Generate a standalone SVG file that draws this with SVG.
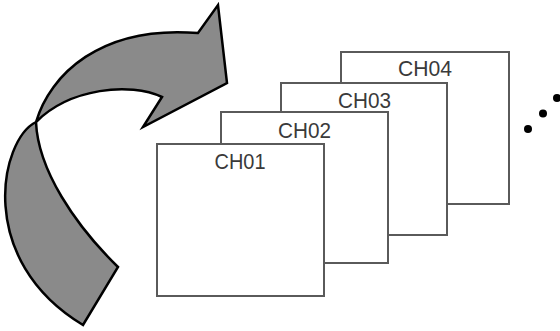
<svg xmlns="http://www.w3.org/2000/svg" width="560" height="331" viewBox="0 0 560 331">
<style>
.sheet{fill:#fff;stroke:#5a5a5a;stroke-width:2}
.lbl{font-family:"Liberation Sans",Arial,sans-serif;font-size:21.5px;fill:#3a3a3a;text-anchor:middle}
.arrow{fill:#8a8a8a;stroke:#000;stroke-width:2.5;stroke-linejoin:miter}
.dot{fill:#000}
</style>
<rect width="560" height="331" fill="#fff"/>
<g id="arrow">
<path class="arrow" d="M36,122 C50,75 100,25 198,33 L218,5 L227,83 L143,127 L162,97 C130,82 70,88 36,122 C0,140 -25,260 83,325 L118,267 C75,225 38,170 36,122 Z"/>
</g>
<g id="ch04"><rect class="sheet" x="341" y="52" width="168" height="152"/><text class="lbl" x="425" y="76" textLength="54" lengthAdjust="spacingAndGlyphs">CH04</text></g>
<g id="ch03"><rect class="sheet" x="281" y="83" width="166" height="152"/><text class="lbl" x="364.5" y="108" textLength="53" lengthAdjust="spacingAndGlyphs">CH03</text></g>
<g id="ch02"><rect class="sheet" x="221" y="112" width="167" height="151"/><text class="lbl" x="304.5" y="138" textLength="53" lengthAdjust="spacingAndGlyphs">CH02</text></g>
<g id="ch01"><rect class="sheet" x="157" y="144" width="167" height="152"/><text class="lbl" x="240" y="169" textLength="51" lengthAdjust="spacingAndGlyphs">CH01</text></g>
<g id="ellipsis">
<circle class="dot" cx="528" cy="129" r="4"/>
<circle class="dot" cx="543" cy="113.5" r="4"/>
<circle class="dot" cx="557" cy="98" r="4"/>
</g>
</svg>
